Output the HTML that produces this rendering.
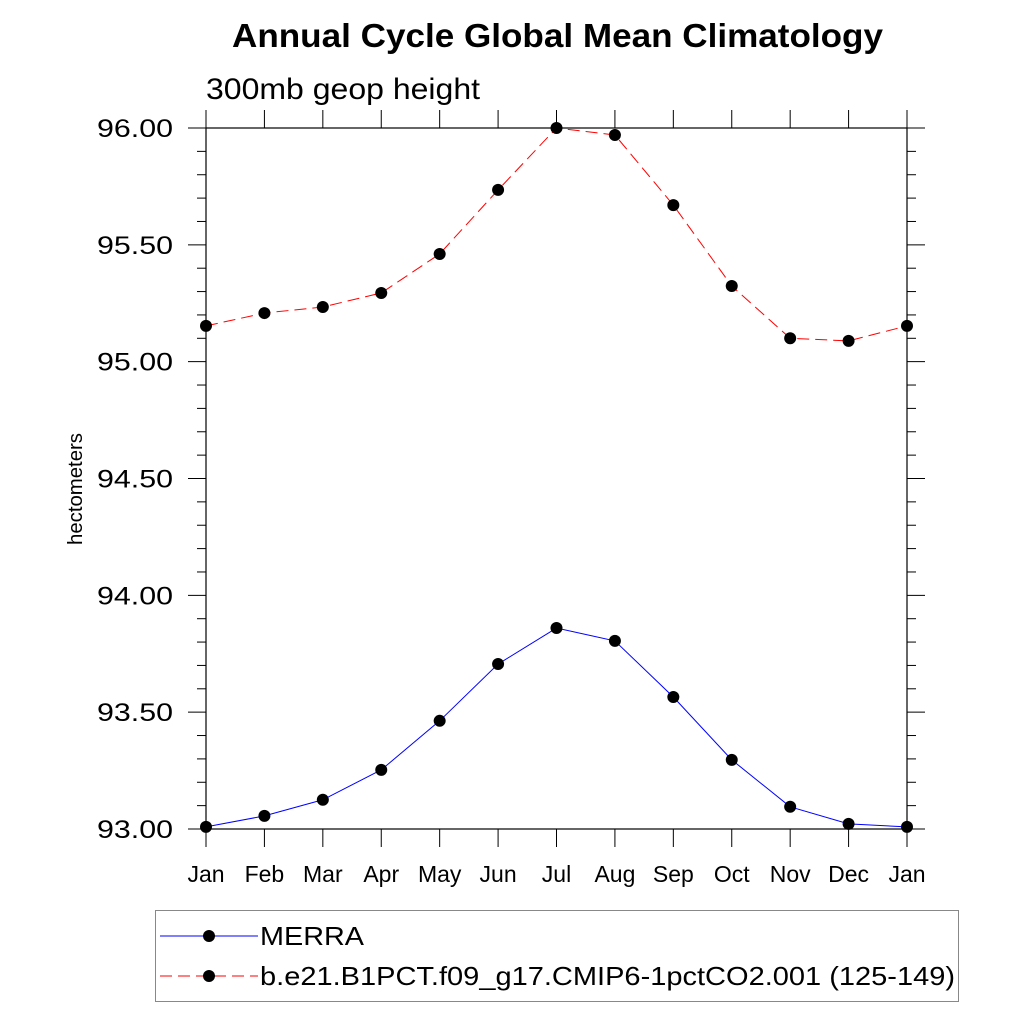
<!DOCTYPE html>
<html><head><meta charset="utf-8"><style>
body{margin:0;background:#fff}
svg{display:block;font-family:"Liberation Sans",sans-serif}
</style></head><body>
<svg id="c" width="1024" height="1024" viewBox="0 0 1024 1024">
<text x="232" y="47" font-size="33" font-weight="bold" textLength="651" lengthAdjust="spacingAndGlyphs">Annual Cycle Global Mean Climatology</text>
<text x="206" y="99" font-size="30" textLength="274" lengthAdjust="spacingAndGlyphs">300mb geop height</text>
<text transform="translate(82,489) rotate(-90)" text-anchor="middle" font-size="20" textLength="112" lengthAdjust="spacingAndGlyphs">hectometers</text>
<g id="axes"></g>
<g id="series"></g>
<g>
<rect x="155.5" y="910.5" width="803" height="91" fill="none" stroke="#888" stroke-width="1"/>
<line x1="160" y1="936" x2="258" y2="936" stroke="#00f" stroke-width="1"/>
<circle cx="209" cy="936" r="6" fill="#000"/>
<text x="260" y="945" font-size="26" textLength="104" lengthAdjust="spacingAndGlyphs">MERRA</text>
<line x1="160" y1="976" x2="258" y2="976" stroke="#f00" stroke-width="1" stroke-dasharray="12,6"/>
<circle cx="209" cy="976" r="6" fill="#000"/>
<text x="260" y="985" font-size="26" textLength="695" lengthAdjust="spacingAndGlyphs">b.e21.B1PCT.f09_g17.CMIP6-1pctCO2.001 (125-149)</text>
</g>
</svg>
<script>
const months=["Jan","Feb","Mar","Apr","May","Jun","Jul","Aug","Sep","Oct","Nov","Dec","Jan"];
const merra=[93.009,93.056,93.125,93.253,93.463,93.706,93.86,93.805,93.565,93.296,93.095,93.022,93.009];
const cmip=[95.153,95.208,95.234,95.294,95.461,95.735,96.0,95.97,95.67,95.324,95.10,95.089,95.153];
const yTicks=[93.0,93.5,94.0,94.5,95.0,95.5,96.0];
const yLabels=["93.00","93.50","94.00","94.50","95.00","95.50","96.00"];
const NS="http://www.w3.org/2000/svg";
const L=206,R=907,T=128,B=829,yMin=93,yMax=96;
const xs=i=>L+(R-L)*i/(months.length-1);
const ys=v=>B-(v-yMin)/(yMax-yMin)*(B-T);
function mk(tag,at,parent){const e=document.createElementNS(NS,tag);for(const k in at)e.setAttribute(k,at[k]);parent.appendChild(e);return e;}
const ax=document.getElementById('axes');
const st={stroke:"#000","stroke-width":1};
mk('rect',{x:L,y:T,width:R-L,height:B-T,fill:"none",stroke:"#000","stroke-width":1.2},ax);
months.forEach((m,i)=>{
  const x=xs(i);
  mk('line',Object.assign({x1:x,x2:x,y1:B,y2:B+18},st),ax);
  mk('line',Object.assign({x1:x,x2:x,y1:T,y2:T-18},st),ax);
  const t=mk('text',{x:x,y:882,"text-anchor":"middle","font-size":23},ax);
  t.textContent=m;
  
  
});
yTicks.forEach((v,i)=>{
  const y=ys(v);
  mk('line',Object.assign({x1:L-18,x2:L,y1:y,y2:y},st),ax);
  mk('line',Object.assign({x1:R,x2:R+18,y1:y,y2:y},st),ax);
  const t=mk('text',{x:173,y:y+9,"text-anchor":"end","font-size":25,textLength:76,lengthAdjust:"spacingAndGlyphs"},ax);
  t.textContent=yLabels[i];
  
  
  if(i<yTicks.length-1){for(let k=1;k<5;k++){const yy=ys(v+0.1*k);
    mk('line',Object.assign({x1:L-9,x2:L,y1:yy,y2:yy},st),ax);
    mk('line',Object.assign({x1:R,x2:R+9,y1:yy,y2:yy},st),ax);}}
});
const sg=document.getElementById('series');
function series(vals,color,dash,name){
  const pts=vals.map((v,i)=>xs(i)+","+ys(v)).join(" ");
  const pl=mk('polyline',{points:pts,fill:"none",stroke:color,"stroke-width":1,"stroke-dasharray":dash},sg);
  
  
  vals.forEach((v,i)=>{const c=mk('circle',{cx:xs(i),cy:ys(v),r:6,fill:"#000"},sg);
    
    });
}
series(merra,"#00f","none","merra");
series(cmip,"#f00","12,6","cmip");
</script>
</body></html>
